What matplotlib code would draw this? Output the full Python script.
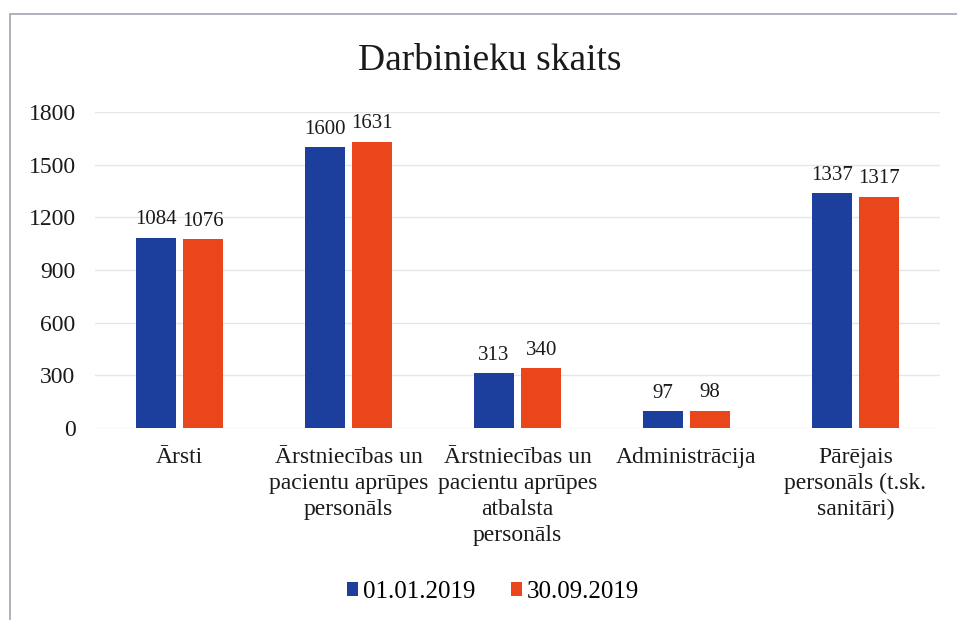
#!/usr/bin/env python3
import numpy as np
import matplotlib
matplotlib.use('Agg')
import matplotlib.pyplot as plt
from matplotlib.patches import Rectangle

# data
categories = ['Ārsti',
              'Ārstniecības un\npacientu aprūpes\npersonāls',
              'Ārstniecības un\npacientu aprūpes\natbalsta\npersonāls',
              'Administrācija',
              'Pārējais\npersonāls (t.sk.\nsanitāri)']
series_names = ['01.01.2019', '30.09.2019']
values_jan = [1084, 1600, 313, 97, 1337]
values_sep = [1076, 1631, 340, 98, 1317]
yticks = [0, 300, 600, 900, 1200, 1500, 1800]

plt.rcParams['font.family'] = 'Liberation Serif'

blue = '#1C3E9C'
red = '#E9461B'
txt = '#1a1a1a'

fig = plt.figure(figsize=(9.57, 6.2), dpi=100)

# scanned chart frame (top and left edges visible)
fig.patches.append(Rectangle((10 / 957, -0.1), 1.2, 1 - 14 / 620 + 0.1,
                             transform=fig.transFigure, fill=False,
                             edgecolor='#a4a4b4', linewidth=1.2))

ax = fig.add_axes([95 / 957, 1 - 428 / 620, 845 / 957, 316 / 620])

x = np.arange(len(categories))
w = 0.235
off = 0.14
b1 = ax.bar(x - off, values_jan, w, color=blue, label=series_names[0], zorder=3)
b2 = ax.bar(x + off, values_sep, w, color=red, label=series_names[1], zorder=3)

for bars in (b1, b2):
    for rect in bars:
        h = rect.get_height()
        ax.annotate(f'{int(h)}', (rect.get_x() + rect.get_width() / 2, h),
                    xytext=(0, 6), textcoords='offset points',
                    ha='center', va='bottom', fontsize=15, color=txt)

ax.set_ylim(0, 1800)
ax.set_xlim(-0.5, len(categories) - 0.5)
ax.set_yticks(yticks)
ax.set_yticklabels([str(t) for t in yticks], fontsize=17, color=txt)
ax.set_xticks(x)
ax.set_xticklabels(categories, fontsize=17, color=txt, linespacing=1.3,
                   va='top', fontfamily='Liberation Serif')
ax.tick_params(axis='both', length=0)
ax.tick_params(axis='y', pad=14)
ax.tick_params(axis='x', pad=14)
ax.grid(axis='y', color='#e6e6e6', linewidth=1, zorder=0)
for s in ax.spines.values():
    s.set_visible(False)

fig.text(490 / 957, 1 - 61 / 620, 'Darbinieku skaits', ha='center', va='center',
         fontsize=27, color=txt)

fig.legend(handles=[b1, b2], labels=series_names, loc='center',
           bbox_to_anchor=(493 / 957, 1 - 592 / 620), ncol=2, frameon=False,
           fontsize=18, handlelength=0.45, handleheight=0.45, handletextpad=0.2,
           columnspacing=1.4)

fig.savefig('out.png', dpi=100)
